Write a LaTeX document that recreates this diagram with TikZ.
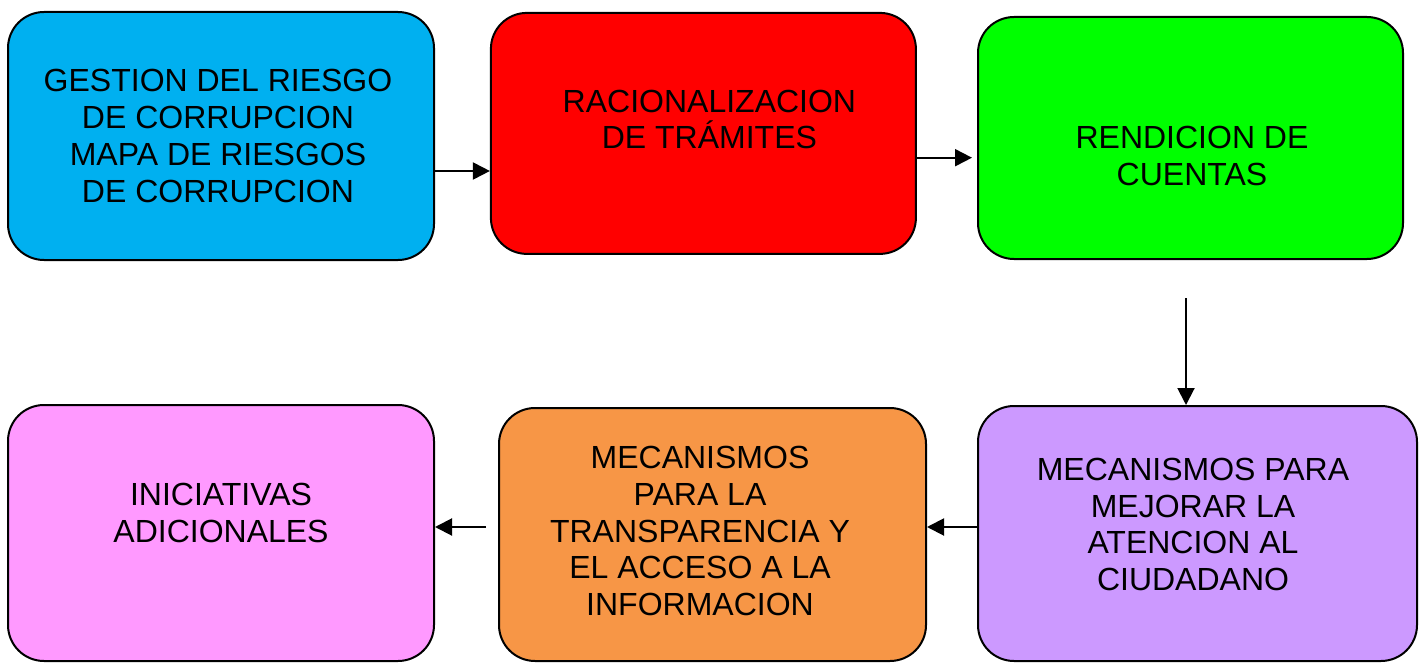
\documentclass[tikz,border=0pt]{standalone}
\usepackage{fontspec}
\setmainfont{Liberation Sans}
\usepackage{xcolor}
\usepackage{tikz}
\usetikzlibrary{arrows.meta}

\definecolor{azul}{RGB}{0,176,240}
\definecolor{rojo}{RGB}{255,0,0}
\definecolor{verde}{RGB}{0,255,0}
\definecolor{lila}{RGB}{204,153,255}
\definecolor{naranja}{RGB}{247,150,70}
\definecolor{rosa}{RGB}{255,153,255}

\begin{document}
\begin{tikzpicture}[x=1pt,y=-1pt,
  caja/.style={draw, line width=2pt, rounded corners=36pt, inner sep=0pt},
  texto/.style={align=center, font=\fontsize{32}{36.8}\selectfont},
  flecha/.style={line width=2pt, -{Triangle[length=17pt,width=17pt]}}]
\useasboundingbox (0,0) rectangle (1424,663);

\node[caja, fill=azul, minimum width=426pt, minimum height=248pt,
  label={[texto, xshift=-3pt]center:GESTION DEL RIESGO\\DE CORRUPCION\\MAPA DE RIESGOS\\DE CORRUPCION}] (gestion) at (221,136) {};
\node[caja, fill=rojo, minimum width=425pt, minimum height=241pt,
  label={[texto, shift={(6pt,14pt)}]center:RACIONALIZACION\\DE TRÁMITES}] (racional) at (703.4,133.4) {};
\node[caja, fill=verde, minimum width=425pt, minimum height=242pt,
  label={[texto, shift={(1.5pt,-18pt)}]center:RENDICION DE\\CUENTAS}] (rendicion) at (1190.5,138) {};
\node[caja, fill=lila, minimum width=439pt, minimum height=255pt,
  label={[texto, shift={(-4.5pt,9pt)}]center:MECANISMOS PARA\\MEJORAR LA\\ATENCION AL\\CIUDADANO}] (mejorar) at (1197.5,533.5) {};
\node[caja, fill=naranja, minimum width=427pt, minimum height=253pt,
  label={[texto, shift={(-12.5pt,3.5pt)}]center:MECANISMOS\\PARA LA\\TRANSPARENCIA Y\\EL ACCESO A LA\\INFORMACION}] (transparencia) at (712.5,534.5) {};
\node[caja, fill=rosa, minimum width=426pt, minimum height=256pt,
  label={[texto, yshift=20pt]center:INICIATIVAS\\ADICIONALES}] (iniciativas) at (221,533) {};

% conectores
\coordinate (a1) at ([yshift=-35pt]gestion.east);
\coordinate (b1) at ([yshift=-24.3pt]racional.east);
\coordinate (c1) at ([xshift=-4.5pt,yshift=-38pt]rendicion.south);
\coordinate (d1) at ([yshift=6.5pt]mejorar.west);
\coordinate (e1) at ([xshift=-12pt,yshift=7.5pt]transparencia.west);

\draw[flecha] (a1) -- (a1 -| racional.west);
\draw[flecha, shorten >=5pt] (b1) -- (b1 -| rendicion.west);
\draw[flecha] (c1) -- (c1 |- mejorar.north);
\draw[flecha] (d1) -- (d1 -| transparencia.east);
\draw[flecha] (e1) -- (e1 -| iniciativas.east);
\end{tikzpicture}
\end{document}
